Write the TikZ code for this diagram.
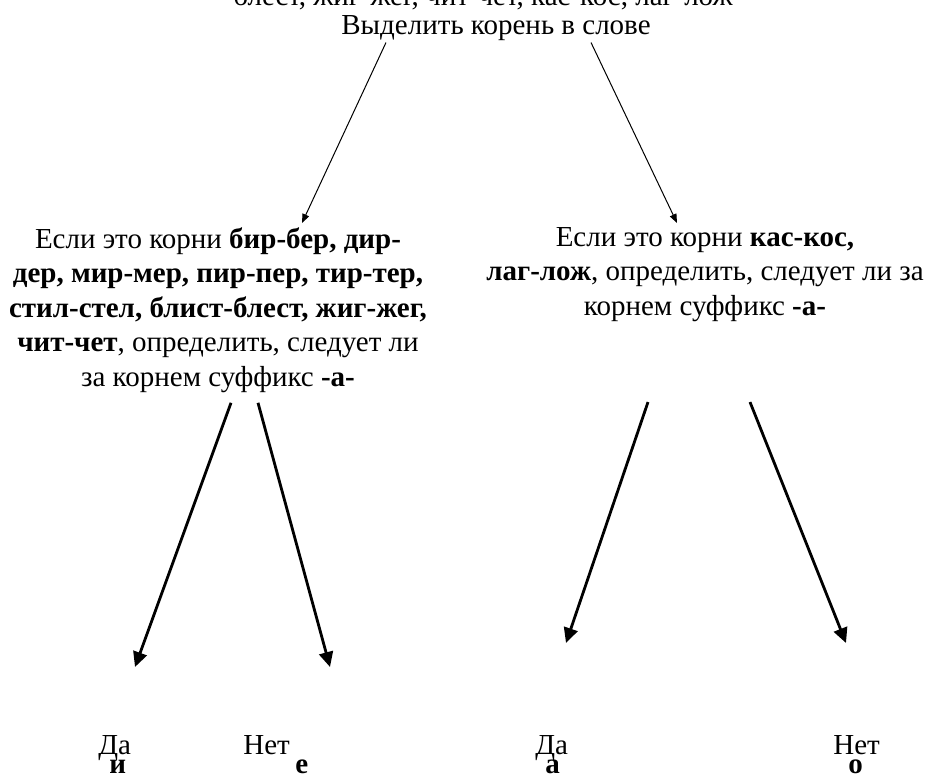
\documentclass[tikz,border=0pt]{standalone}
\usepackage{fontspec}
\setmainfont{Liberation Serif}
\usetikzlibrary{arrows.meta,calc}

\begin{document}
\begin{tikzpicture}[x=0.5pt,y=-0.5pt,
  every node/.style={inner sep=0pt,font=\fontsize{14.5pt}{17.25pt}\selectfont},
  blk/.style={align=center,anchor=north},
  ans/.style={align=left,anchor=north west},
  thinarr/.style={line width=0.5pt,-{Triangle[length=4.5pt,width=3.5pt]}},
  thickarr/.style={line width=1.4pt,-{Triangle[length=7.5pt,width=7pt]}}]
\useasboundingbox (0,0) rectangle (926,774);
\node[anchor=base] (prev) at (483,6) {блест, жиг-жег, чит-чет, кас-кос, лаг-лож};
\node[anchor=base] (title) at (496,35) {Выделить корень в слове};
\node[blk] (rootsA) at (218,227) {Если это корни \textbf{бир-бер, дир-}\\
  \textbf{дер, мир-мер, пир-пер, тир-тер,}\\
  \textbf{стил-стел, блист-блест, жиг-жег,}\\
  \textbf{чит-чет}, определить, следует ли\\
  за корнем суффикс \textbf{-а-}};
\node[blk] (rootsB) at (705,227) {Если это корни \textbf{кас-кос,}\\
  \textbf{лаг-лож}, определить, следует ли за\\
  корнем суффикс \textbf{-а-}};
\node[ans] (yesA) at (98,735) {Да\\[-7.5pt]\hspace*{5.5pt}\textbf{и}};
\node[ans] (noA) at (243,735) {Нет\\[-7.5pt]\hspace*{26pt}\textbf{е}};
\node[ans] (yesB) at (535,735) {Да\\[-7.5pt]\hspace*{5pt}\textbf{а}};
\node[ans] (noB) at (833,735) {Нет\\[-7.5pt]\hspace*{7.5pt}\textbf{о}};
% from the title
\draw[thinarr] ($(title.south west)+(45,1)$) -- ($(rootsA.north)+(84,-4)$);
\draw[thinarr] ($(title.south east)+(-60,1)$) -- ($(rootsB.north)+(-28,-4)$);
% yes / no
\draw[thickarr] ($(rootsA.south)+(13,10)$) -- ($(yesA.north west)+(37,-68)$);
\draw[thickarr] ($(rootsA.south)+(40,10)$) -- ($(noA.north west)+(87,-68)$);
\draw[thickarr] ($(rootsB.south)+(-57,80)$) -- ($(yesB.north west)+(31,-92)$);
\draw[thickarr] ($(rootsB.south)+(45,80)$) -- ($(noB.north west)+(13,-92)$);
\end{tikzpicture}
\end{document}
